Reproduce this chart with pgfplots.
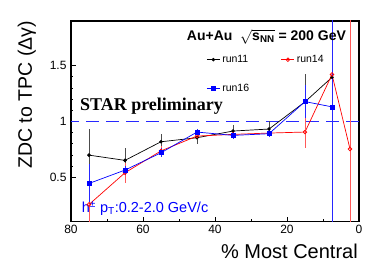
\documentclass[border=0pt]{standalone}
\usepackage{pgfplots}
\pgfplotsset{compat=1.18}
\usepackage{amsmath}
\usepackage{fontspec}
\setmainfont{Liberation Sans}
\newfontfamily\timesfont{Liberation Serif}

\pgfplotstableread{
x y e
75 0.697 0.23
65 0.650 0.11
55 0.817 0.07
45 0.853 0.06
35 0.913 0.05
25 0.931 0.07
15 1.175 0.25
7.5 1.395 0.05
}\runA

\pgfplotstableread{
x y e
75 0.254 0.35
65 0.539 0.09
55 0.735 0.04
45 0.868 0.03
35 0.883 0.03
25 0.895 0.03
15 0.904 0.14
7.5 1.420 0.03
2.5 0.752 5
}\runB

\pgfplotstableread{
x y e
75 0.443 0.17
65 0.563 0.04
55 0.718 0.04
45 0.904 0.03
35 0.874 0.03
25 0.889 0.03
15 1.177 0.15
7.5 1.130 5
}\runC

\definecolor{dashblue}{RGB}{40,40,255}

\begin{document}
\begin{tikzpicture}
\begin{axis}[
  width=288pt, height=200.7pt, scale only axis,
  x dir=reverse, xmin=0, xmax=80, ymin=0.1, ymax=1.9,
  xtick={0,20,40,60,80}, minor x tick num=1,
  ytick={0.5,1,1.5}, minor y tick num=4,
  tick align=inside, xtick pos=bottom, ytick pos=left,
  major tick length=5pt, minor tick length=2.5pt,
  axis line style={line width=1.5pt},
  every tick/.style={black, line width=0.5pt},
  ticklabel style={font=\fontsize{12}{12}\selectfont},
  /pgf/number format/assume math mode=true,
  yticklabel style={xshift=-1pt},
  legend columns=2,
  legend cell align=left,
  legend style={at={(rel axis cs:0.47,0.84)}, anchor=north west, draw=none, fill=none,
    inner sep=0pt, row sep=16pt, font=\fontsize{10.5}{11}\selectfont,
    /tikz/every even column/.append style={column sep=30pt}},
  legend image code/.code={\draw[mark repeat=2,mark phase=2,#1] plot coordinates {(0pt,0pt) (6.5pt,0pt) (13pt,0pt)};},
]
\addplot[dashblue, line width=0.5pt, dash pattern=on 13pt off 7pt, forget plot] coordinates {(0,1) (80,1)};

\addplot[black, line width=0.7pt, mark=*, mark size=1.4pt,
  error bars/.cd, y dir=both, y explicit, error mark=none,
  error bar style={black!70, line width=0.8pt}]
  table[x=x, y=y, y error=e] {\runA};
\addlegendentry{run11}

\addplot[red, line width=0.7pt, mark=o, mark size=1.8pt, mark options={fill=white},
  error bars/.cd, y dir=both, y explicit, error mark=none,
  error bar style={red!65, line width=0.9pt}]
  table[x=x, y=y, y error=e] {\runB};
\addlegendentry{run14}

\addplot[blue, line width=0.7pt, mark=square*, mark size=2pt,
  error bars/.cd, y dir=both, y explicit, error mark=none,
  error bar style={blue!85, line width=0.9pt}]
  table[x=x, y=y, y error=e] {\runC};
\addlegendentry{run16}

\node[anchor=base west, inner sep=0pt, font=\bfseries\fontsize{14}{14}\selectfont]
  at (rel axis cs:0.402,0.902) {Au+Au \ $\sqrt{\text{s}_{\text{NN}}}$ = 200 GeV};
\node[anchor=base west, inner sep=0pt, font=\timesfont\bfseries\fontsize{18}{18}\selectfont]
  at (rel axis cs:0.031,0.552) {STAR preliminary};
\node[anchor=base west, inner sep=0pt, text=blue, font=\fontsize{14.5}{14.5}\selectfont]
  at (rel axis cs:0.037,0.047) {h\textsuperscript{±} p\textsubscript{T}:0.2-2.0 GeV/c};

\coordinate (bl) at (rel axis cs:0,0);
\coordinate (tl) at (rel axis cs:0,1);
\coordinate (br) at (rel axis cs:1,0);
\end{axis}
\node[rotate=90, anchor=base east, inner sep=0pt, font=\fontsize{19.5}{20}\selectfont]
  at ([xshift=-39pt]tl) {ZDC to TPC (Δγ)};
\node[anchor=base east, inner sep=0pt, font=\fontsize{20}{20}\selectfont]
  at ([xshift=-1pt,yshift=-36.6pt]br) {\% Most Central};
\pgfresetboundingbox
\path ([xshift=-71pt,yshift=-46.3pt]bl) rectangle ([xshift=303pt,yshift=221.7pt]bl);
\end{tikzpicture}
\end{document}
